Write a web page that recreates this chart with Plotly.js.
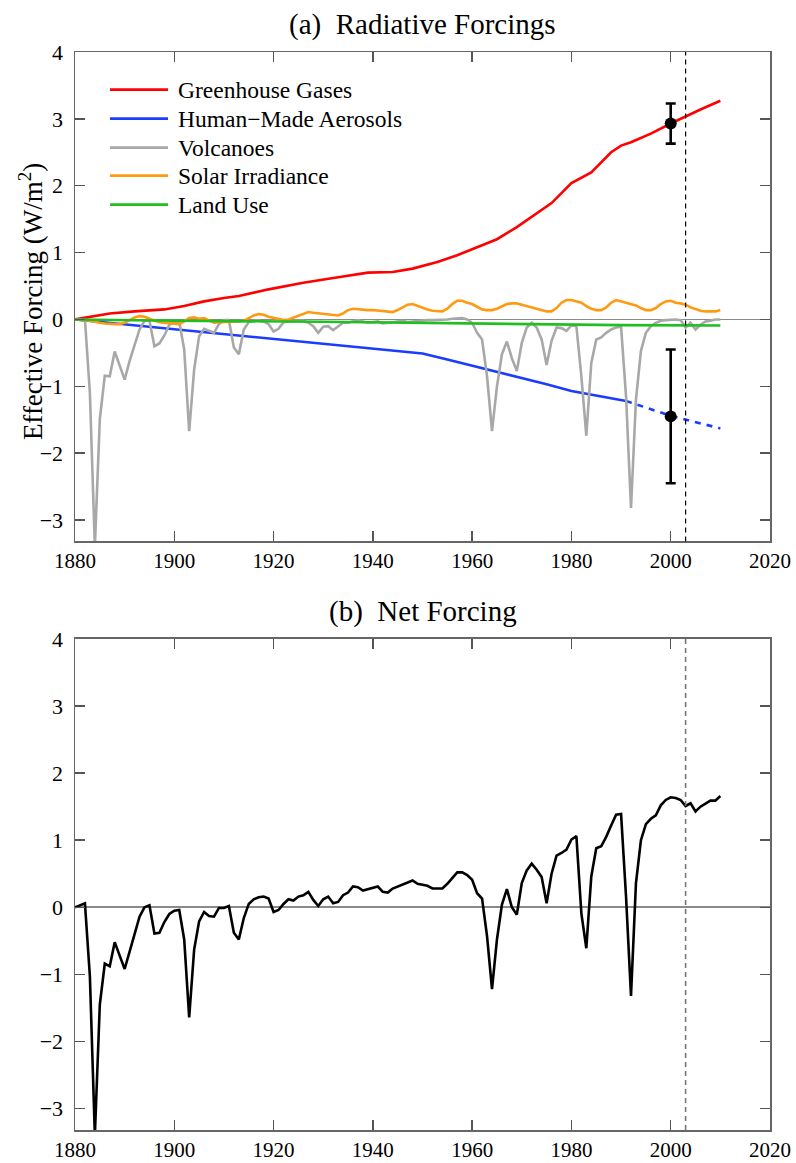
<!DOCTYPE html>
<html>
<head>
<meta charset="utf-8">
<script src="https://cdn.plot.ly/plotly-3.0.1.min.js"></script>
<style>html,body{margin:0;padding:0;background:#fff;}#chart{width:796px;height:1163px;}</style>
</head>
<body>
<div id="chart"></div>
<script>
// ---------- DATA ----------
const years = [
1880,1881,1882,1883,1884,1885,1886,1887,1888,1889,
1890,1891,1892,1893,1894,1895,1896,1897,1898,1899,
1900,1901,1902,1903,1904,1905,1906,1907,1908,1909,
1910,1911,1912,1913,1914,1915,1916,1917,1918,1919,
1920,1921,1922,1923,1924,1925,1926,1927,1928,1929,
1930,1931,1932,1933,1934,1935,1936,1937,1938,1939,
1940,1941,1942,1943,1944,1945,1946,1947,1948,1949,
1950,1951,1952,1953,1954,1955,1956,1957,1958,1959,
1960,1961,1962,1963,1964,1965,1966,1967,1968,1969,
1970,1971,1972,1973,1974,1975,1976,1977,1978,1979,
1980,1981,1982,1983,1984,1985,1986,1987,1988,1989,
1990,1991,1992,1993,1994,1995,1996,1997,1998,1999,
2000,2001,2002,2003,2004,2005,2006,2007,2008,2009,2010];

const volcanoes = [
0,0,0,-1.1,-3.4,-1.49,-0.84,-0.85,-0.48,-0.69,
-0.90,-0.62,-0.38,-0.15,-0.02,-0.02,-0.40,-0.36,-0.24,-0.08,
-0.04,-0.03,-0.45,-1.67,-0.75,-0.25,-0.14,-0.17,-0.20,-0.07,
-0.01,-0.01,-0.42,-0.52,-0.15,-0.04,-0.02,-0.02,-0.03,-0.07,
-0.18,-0.14,-0.04,-0.03,-0.02,-0.02,-0.02,-0.05,-0.10,-0.20,
-0.11,-0.10,-0.16,-0.10,-0.05,-0.05,-0.03,-0.01,-0.03,-0.05,
-0.04,-0.03,-0.06,-0.05,-0.03,-0.02,-0.02,-0.04,-0.03,-0.02,
-0.02,-0.01,-0.01,-0.01,0.0,0.0,0.01,0.01,0.02,0.0,
-0.05,-0.20,-0.30,-0.85,-1.67,-1.00,-0.52,-0.33,-0.58,-0.77,
-0.35,-0.12,-0.05,-0.12,-0.30,-0.68,-0.32,-0.12,-0.13,-0.17,
-0.09,-0.10,-0.85,-1.74,-0.65,-0.30,-0.27,-0.20,-0.15,-0.12,
-0.11,-1.15,-2.82,-1.20,-0.47,-0.20,-0.10,-0.05,-0.02,-0.01,
0,0,-0.01,-0.12,-0.05,-0.15,-0.08,-0.03,-0.02,0,0];

const solar = [
0.0,0.0,-0.01,-0.02,-0.04,-0.05,-0.06,-0.07,-0.07,-0.07,
-0.05,-0.01,0.03,0.05,0.04,0.01,-0.02,-0.04,-0.05,-0.06,
-0.07,-0.07,-0.03,0.02,0.03,0.01,0.02,-0.02,-0.05,-0.04,
-0.04,-0.04,-0.04,-0.03,-0.02,0.02,0.06,0.08,0.07,0.04,
0.02,0.0,-0.01,0.0,0.03,0.06,0.09,0.11,0.10,0.09,
0.09,0.08,0.06,0.06,0.09,0.14,0.16,0.15,0.14,0.14,
0.14,0.13,0.12,0.12,0.11,0.14,0.18,0.22,0.23,0.20,
0.18,0.15,0.13,0.12,0.12,0.16,0.23,0.28,0.28,0.25,
0.23,0.19,0.15,0.14,0.14,0.16,0.20,0.23,0.24,0.24,
0.22,0.20,0.19,0.17,0.14,0.12,0.12,0.17,0.25,0.29,
0.29,0.27,0.25,0.20,0.16,0.14,0.14,0.18,0.25,0.29,
0.27,0.26,0.24,0.21,0.17,0.14,0.14,0.17,0.23,0.27,
0.28,0.25,0.24,0.22,0.18,0.15,0.13,0.12,0.12,0.12,0.14];

const netForcing = [
0.0,0.03,0.06,-1.03,-3.4,-1.45,-0.84,-0.88,-0.52,-0.72,
-0.92,-0.66,-0.40,-0.14,0.0,0.03,-0.39,-0.38,-0.22,-0.10,
-0.05,-0.04,-0.48,-1.64,-0.63,-0.21,-0.07,-0.13,-0.14,-0.01,
-0.01,0.02,-0.38,-0.48,-0.16,0.05,0.12,0.15,0.16,0.13,
-0.07,-0.04,0.05,0.12,0.10,0.16,0.18,0.23,0.11,0.02,
0.12,0.16,0.06,0.08,0.18,0.22,0.31,0.30,0.25,0.27,
0.28,0.31,0.23,0.22,0.28,0.31,0.33,0.36,0.40,0.35,
0.34,0.32,0.28,0.28,0.28,0.35,0.44,0.52,0.52,0.48,
0.41,0.21,0.13,-0.43,-1.22,-0.48,0.04,0.27,0.0,-0.11,
0.36,0.55,0.65,0.56,0.45,0.06,0.50,0.77,0.81,0.86,
1.01,1.06,-0.09,-0.61,0.46,0.88,0.91,1.05,1.22,1.38,
1.39,0.16,-1.32,0.36,1.00,1.24,1.32,1.37,1.52,1.60,
1.64,1.63,1.60,1.51,1.55,1.43,1.50,1.55,1.59,1.59,1.66];

const ghgYears = [1880,1884,1887,1892,1898,1902,1906,1910,1913,1919,1926,1933,1939,1944,1948,1953,1957,1960,1965,1969,1972,1976,1980,1984,1988,1990,1992,1996,2000,2003,2006,2010];
const ghgValues = [0,0.05,0.09,0.12,0.15,0.20,0.27,0.32,0.35,0.45,0.55,0.63,0.70,0.71,0.76,0.86,0.96,1.05,1.20,1.38,1.54,1.74,2.04,2.20,2.50,2.60,2.65,2.78,2.93,3.04,3.14,3.27];

const aerYears = [1880,1950,1955,1960,1965,1970,1975,1980,1985,1991];
const aerValues = [0,-0.51,-0.60,-0.69,-0.79,-0.87,-0.97,-1.07,-1.14,-1.22];
const aerProjYears = [1991,2000,2010];
const aerProjValues = [-1.22,-1.44,-1.63];

const landYears = [1880,1900,1930,1950,1970,1990,2010];
const landValues = [0,-0.02,-0.035,-0.05,-0.075,-0.085,-0.09];

const estYear = [2000];
const ghgEstimate = [2.93];
const ghgUncert = [0.30];
const aerEstimate = [-1.45];
const aerUncert = [1.00];

const markYear = 2003;

const xTicks = [1880,1900,1920,1940,1960,1980,2000,2020];
const yTicks = [-3,-2,-1,0,1,2,3,4];

const legendNames = ['Greenhouse Gases','Human\u2212Made Aerosols','Volcanoes','Solar Irradiance','Land Use'];
const colors = {ghg:'#ff0000', aer:'#1a3cff', vol:'#a8a8a8', sol:'#ff9a10', land:'#1fbf1f', net:'#000000'};
const legendColors = [colors.ghg, colors.aer, colors.vol, colors.sol, colors.land];

const titleA = '(a)\u00a0\u00a0Radiative Forcings';
const titleB = '(b)\u00a0\u00a0Net Forcing';
const yTitle = 'Effective Forcing (W/m<sup>2</sup>)';

// ---------- TRACES ----------
const LW = 2.6;
const traces = [
  {x: ghgYears, y: ghgValues, xaxis:'x', yaxis:'y', mode:'lines', line:{color:colors.ghg, width:LW}},
  {x: aerYears, y: aerValues, xaxis:'x', yaxis:'y', mode:'lines', line:{color:colors.aer, width:LW}},
  {x: aerProjYears, y: aerProjValues, xaxis:'x', yaxis:'y', mode:'lines', line:{color:colors.aer, width:LW, dash:'6px,6px'}},
  {x: years, y: volcanoes, xaxis:'x', yaxis:'y', mode:'lines', line:{color:colors.vol, width:LW}},
  {x: years, y: solar, xaxis:'x', yaxis:'y', mode:'lines', line:{color:colors.sol, width:LW}},
  {x: landYears, y: landValues, xaxis:'x', yaxis:'y', mode:'lines', line:{color:colors.land, width:LW}},
  {x: estYear, y: ghgEstimate, xaxis:'x', yaxis:'y', mode:'markers', marker:{color:'#000', size:12},
   error_y:{type:'data', array: ghgUncert, visible:true, color:'#000', thickness:2.6, width:5}},
  {x: estYear, y: aerEstimate, xaxis:'x', yaxis:'y', mode:'markers', marker:{color:'#000', size:12},
   error_y:{type:'data', array: aerUncert, visible:true, color:'#000', thickness:2.6, width:5}},
  {x: years, y: netForcing, xaxis:'x2', yaxis:'y2', mode:'lines', line:{color:colors.net, width:LW}}
];

// ---------- LAYOUT ----------
const FONT = 'Liberation Serif, DejaVu Serif, serif';
function xAxis(anchor){
  return {anchor: anchor, range:[1880,2020], tickvals:xTicks, ticktext:xTicks.map(String),
    ticks:'inside', ticklen:10, tickwidth:1.5, tickcolor:'#555',
    showline:true, linecolor:'#666', linewidth:1.5, mirror:'ticks',
    showgrid:false, zeroline:false, tickfont:{size:21, family:FONT, color:'#000'}};
}
function yAxis(anchor, domain){
  return {anchor: anchor, domain: domain, range:[-3.32,4], tickvals:yTicks,
    ticks:'inside', ticklen:10, tickwidth:1.5, tickcolor:'#555',
    showline:true, linecolor:'#666', linewidth:1.5, mirror:'ticks',
    showgrid:false, zeroline:true, zerolinecolor:'#8a8a8a', zerolinewidth:1.6,
    ticklabelstandoff:6, tickfont:{size:22, family:FONT, color:'#000'}};
}

const yA = yAxis('x', [0.546, 1]);
const yB = yAxis('x2', [0, 0.4555]);

const shapes = [
  {type:'line', xref:'x', yref:'y domain', x0:markYear, x1:markYear, y0:0, y1:1, line:{color:'#000', width:1.2, dash:'5px,4px'}},
  {type:'line', xref:'x2', yref:'y2 domain', x0:markYear, x1:markYear, y0:0, y1:1, line:{color:'#777', width:1.6, dash:'5px,4px'}}
];
const annotations = [
  {xref:'x domain', yref:'y domain', x:0.5, y:1.056, text:titleA, showarrow:false, xanchor:'center', yanchor:'middle', font:{size:29, family:FONT, color:'#000'}},
  {xref:'x2 domain', yref:'y2 domain', x:0.5, y:1.055, text:titleB, showarrow:false, xanchor:'center', yanchor:'middle', font:{size:29, family:FONT, color:'#000'}},
  {xref:'x domain', yref:'y domain', x:-0.064, y:0.49, text:yTitle, textangle:-90, showarrow:false, xanchor:'center', yanchor:'middle', font:{size:27, family:FONT, color:'#000'}}
];
// custom legend (line samples + labels) in the top panel
const legRows = [0.9231, 0.8638, 0.8046, 0.7473, 0.6881];
legendNames.forEach(function(name, i){
  shapes.push({type:'line', xref:'x domain', yref:'y domain', x0:0.0504, x1:0.1338, y0:legRows[i], y1:legRows[i],
    line:{color:legendColors[i], width:LW}});
  annotations.push({xref:'x domain', yref:'y domain', x:0.1453, y:legRows[i], text:name, showarrow:false,
    xanchor:'left', yanchor:'middle', font:{size:23.5, family:FONT, color:'#000'}});
});

const layout = {
  width:796, height:1163,
  margin:{l:75, r:26, t:52, b:33},
  paper_bgcolor:'#fff', plot_bgcolor:'#fff',
  font:{family:FONT, color:'#000'},
  showlegend:false,
  xaxis: xAxis('y'),
  yaxis: yA,
  xaxis2: xAxis('y2'),
  yaxis2: yB,
  shapes: shapes,
  annotations: annotations
};

Plotly.newPlot('chart', traces, layout, {staticPlot:true, displayModeBar:false});
</script>
</body>
</html>
